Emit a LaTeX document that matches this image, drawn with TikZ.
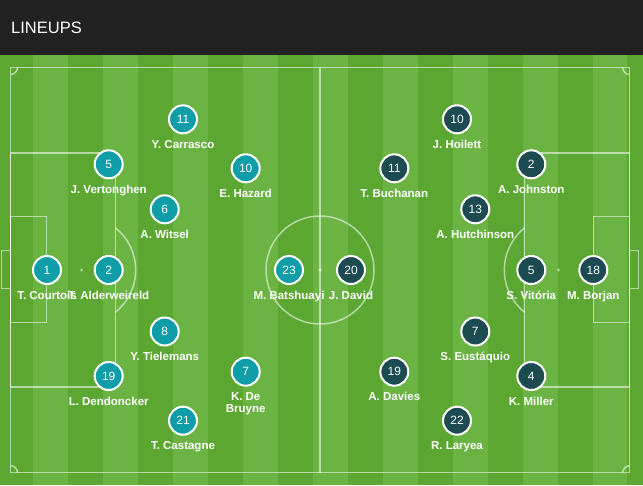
\documentclass[tikz,border=0pt]{standalone}
\usepackage{fontspec}
\setmainfont{Liberation Sans}
\usepackage{tikz}
\usetikzlibrary{positioning}
\definecolor{hdrgray}{HTML}{222222}
\definecolor{grassdark}{HTML}{5BA731}
\definecolor{grasslight}{HTML}{6BB443}
\definecolor{belteal}{HTML}{0F9DA7}
\definecolor{candark}{HTML}{1D4B52}

\begin{document}
\begin{tikzpicture}[x=1pt,y=-1pt,
    pline/.style={white, opacity=0.55, line width=1.5pt},
    shirt/.style={circle, draw=white, line width=2pt, minimum size=28pt, inner sep=0pt,
                  text=white, font=\fontsize{12}{14}\selectfont},
    bel/.style={shirt, fill=belteal},
    can/.style={shirt, fill=candark},
    pname/.style={text=white, inner sep=0pt, anchor=base,
                  font=\fontsize{11.5}{11.7}\selectfont\bfseries}]
    \useasboundingbox (0,0) rectangle (643,485);
    % header and grass
    \fill [hdrgray] (0,0) rectangle (643,55);
    \node [text=white, inner sep=0pt, anchor=base west, font=\fontsize{16.5}{18}\selectfont] (title) at (11,33.3) {LINEUPS};
    \fill [grassdark] (0,55) rectangle (643,485);
    \foreach \i in {0,2,...,16}
        \fill [grasslight] ({33+34.97*\i},55) rectangle ({33+34.97*(\i+1)},485);
    % pitch markings
    \draw [pline] (10.7,67.7) rectangle (629.5,472.5);
    \draw [pline] (320,67.7) -- (320,472.5);
    \draw [pline] (320,270) circle (54);
    \fill [white, opacity=0.55] (320,270) circle (1.8);
    \draw [pline] (10.7,153) rectangle (115.3,387);
    \draw [pline] (524.7,153) rectangle (629.5,387);
    \draw [pline] (10.7,216.3) rectangle (46.3,322.7);
    \draw [pline] (593.7,216.3) rectangle (629.5,322.7);
    \draw [pline] (10.7,250.7) -- (1.7,250.7) -- (1.7,288.3) -- (10.7,288.3);
    \draw [pline] (629.5,250.7) -- (638.5,250.7) -- (638.5,288.3) -- (629.5,288.3);
    \fill [white, opacity=0.55] (81.7,270) circle (1.5);
    \fill [white, opacity=0.55] (558.3,270) circle (1.5);
    \draw [pline] (81.7,270) ++(-51.5:54) arc (-51.5:51.5:54);
    \draw [pline] (558.3,270) ++(128.5:54) arc (128.5:231.5:54);
    \draw [pline] (10.7,74.4) arc (90:0:6.7);
    \draw [pline] (622.8,67.7) arc (180:90:6.7);
    \draw [pline] (17.4,472.5) arc (0:-90:6.7);
    \draw [pline] (629.5,465.8) arc (270:180:6.7);
    % Belgium
    \node [bel] (b1) at (47,270) {1};
    \node [bel] (b2) at (108.7,270) {2};
    \node [bel] (b5) at (108.7,164.3) {5};
    \node [bel] (b6) at (164.7,209.3) {6};
    \node [bel] (b11) at (183,119.3) {11};
    \node [bel] (b10) at (245.7,168.3) {10};
    \node [bel] (b23) at (289,270) {23};
    \node [bel] (b8) at (164.7,331.5) {8};
    \node [bel] (b7) at (245.7,371.7) {7};
    \node [bel] (b19) at (108.7,376) {19};
    \node [bel] (b21) at (183,420.7) {21};
    % Canada
    \node [can] (c18) at (593.3,270) {18};
    \node [can] (c5) at (531.3,270) {5};
    \node [can] (c2) at (531.3,164.3) {2};
    \node [can] (c13) at (475.3,209.3) {13};
    \node [can] (c10) at (457,119.3) {10};
    \node [can] (c11) at (394.3,168.3) {11};
    \node [can] (c20) at (351,270) {20};
    \node [can] (c7) at (475.3,331.5) {7};
    \node [can] (c19) at (394.3,371.7) {19};
    \node [can] (c4) at (531.3,376) {4};
    \node [can] (c22) at (457,420.7) {22};
    % names
    \node [pname] (nb1) at (47,299) {T. Courtois};
    \node [pname] (nb2) at (108.7,299) {T. Alderweireld};
    \node [pname] (nb5) at (108.7,193.3) {J. Vertonghen};
    \node [pname] (nb6) at (164.7,238.3) {A. Witsel};
    \node [pname] (nb11) at (183,148.3) {Y. Carrasco};
    \node [pname] (nb10) at (245.7,197.3) {E. Hazard};
    \node [pname] (nb23) at (289,299) {M. Batshuayi};
    \node [pname] (nb8) at (164.7,360.5) {Y. Tielemans};
    \node [pname, anchor=north, align=center] (nb7) at (245.7,392.7) {K. De\\Bruyne};
    \node [pname] (nb19) at (108.7,405) {L. Dendoncker};
    \node [pname] (nb21) at (183,449.7) {T. Castagne};
    \node [pname] (nc18) at (593.3,299) {M. Borjan};
    \node [pname] (nc5) at (531.3,299) {S. Vitória};
    \node [pname] (nc2) at (531.3,193.3) {A. Johnston};
    \node [pname] (nc13) at (475.3,238.3) {A. Hutchinson};
    \node [pname] (nc10) at (457,148.3) {J. Hoilett};
    \node [pname] (nc11) at (394.3,197.3) {T. Buchanan};
    \node [pname] (nc20) at (351,299) {J. David};
    \node [pname] (nc7) at (475.3,360.5) {S. Eustáquio};
    \node [pname] (nc19) at (394.3,400.7) {A. Davies};
    \node [pname] (nc4) at (531.3,405) {K. Miller};
    \node [pname] (nc22) at (457,449.7) {R. Laryea};
\end{tikzpicture}
\end{document}
